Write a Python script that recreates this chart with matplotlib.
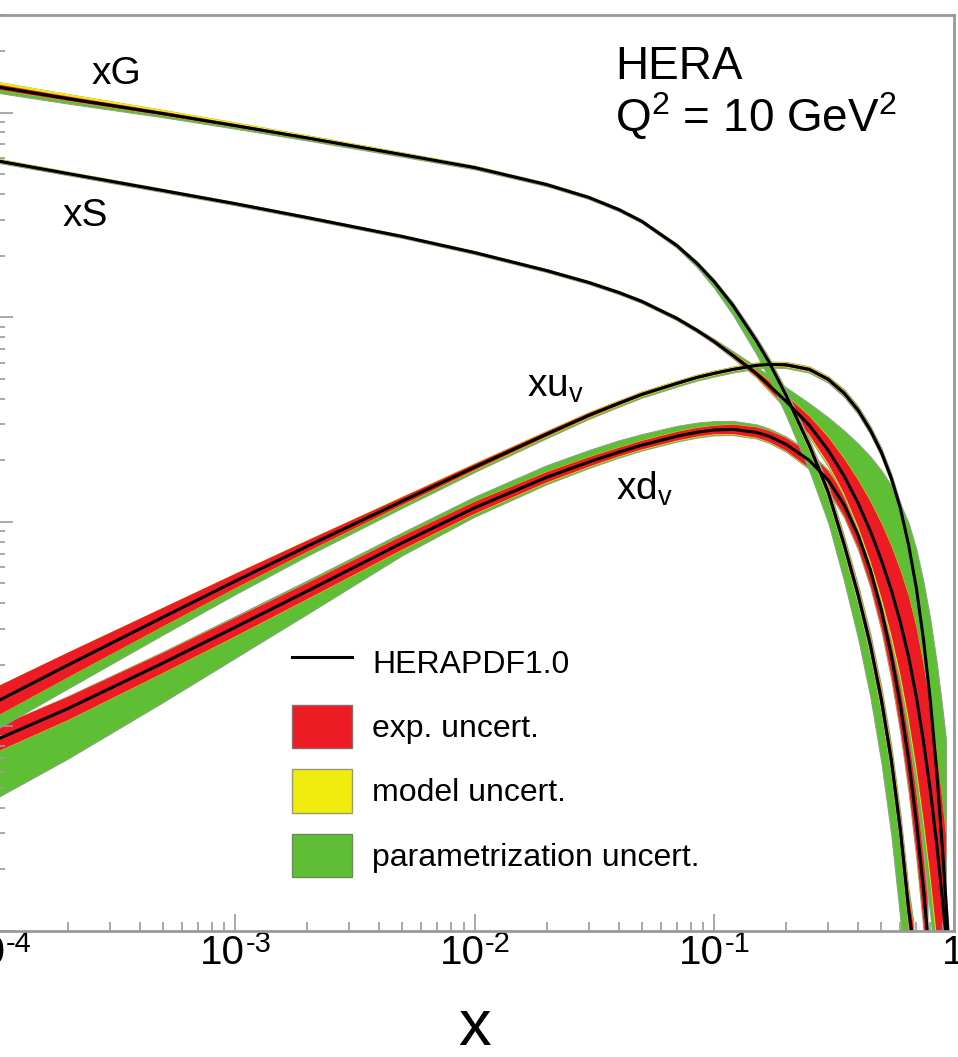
import numpy as np
import matplotlib
matplotlib.use("Agg")
import matplotlib.pyplot as plt
from matplotlib.patches import Patch
from matplotlib.lines import Line2D
from matplotlib.ticker import LogLocator, NullFormatter
from matplotlib.transforms import blended_transform_factory, ScaledTranslation

plt.rcParams["font.family"] = ["Liberation Sans", "DejaVu Sans"]
plt.rcParams["mathtext.fontset"] = "custom"
plt.rcParams["mathtext.rm"] = "Liberation Sans"
plt.rcParams["mathtext.it"] = "Liberation Sans"
plt.rcParams["mathtext.default"] = "regular"

# ---------------- HERAPDF1.0 at Q^2 = 10 GeV^2 ----------------
# uncertainties are relative: each band runs from c/(1+e) to c*(1+e)

# gluon
x_g = [1e-4, 2e-4, 5e-4, 1e-3, 2e-3, 5e-3, 0.01, 0.02, 0.03, 0.04, 0.05, 0.07, 0.085,
       0.1, 0.12, 0.15, 0.17, 0.2, 0.25, 0.3, 0.35, 0.4, 0.45, 0.5, 0.55, 0.6, 0.65, 0.68]
c_g = [13.40, 11.71, 9.89, 8.64, 7.52, 6.23, 5.39, 4.45, 3.85, 3.36, 2.94, 2.24, 1.83,
       1.494, 1.141, 0.770, 0.601, 0.415, 0.236, 0.1394, 0.0768, 0.0438, 0.0249,
       0.01344, 0.00684, 0.00311, 0.001266, 0.000855]
exp_g = [0.030, 0.026, 0.021, 0.018, 0.016, 0.014, 0.013, 0.012, 0.012, 0.012, 0.013,
         0.014, 0.015, 0.017, 0.02, 0.025, 0.03, 0.035, 0.045, 0.055, 0.065, 0.075,
         0.09, 0.11, 0.13, 0.16, 0.2, 0.25]
mup_g = [0.05, 0.045, 0.035, 0.03, 0.025, 0.02, 0.015, 0.012, 0.01, 0.01, 0.01, 0.01,
         0.01, 0.01, 0.012, 0.015, 0.02, 0.025, 0.03, 0.04, 0.05, 0.06, 0.07, 0.08,
         0.09, 0.1, 0.11, 0.12]
mdn_g = [0.01] * 14 + [0.015, 0.02, 0.025, 0.03, 0.04, 0.05, 0.06, 0.07, 0.08, 0.09,
                       0.1, 0.11, 0.12, 0.13]
pup_g = [0.01] * 11 + [0.01, 0.015, 0.02, 0.025, 0.03, 0.035, 0.04, 0.045, 0.05,
                       0.055, 0.06, 0.065, 0.07, 0.075, 0.08, 0.085, 0.09]
pdn_g = [0.06, 0.05, 0.035, 0.028, 0.022, 0.017, 0.013, 0.01, 0.01, 0.01, 0.01,
         0.02, 0.04, 0.07, 0.11, 0.16, 0.2, 0.25, 0.32, 0.4, 0.5, 0.62, 0.78, 1.0,
         1.3, 1.7, 2.2, 2.6]

# sea
x_s = [1e-4, 2e-4, 5e-4, 1e-3, 2e-3, 5e-3, 0.01, 0.02, 0.03, 0.04, 0.05, 0.07, 0.085,
       0.1, 0.12, 0.15, 0.17, 0.2, 0.25, 0.3, 0.35, 0.4, 0.45, 0.5, 0.55, 0.6, 0.65,
       0.7, 0.75, 0.8, 0.85, 0.9, 0.93]
c_s = [5.83, 5.04, 4.16, 3.59, 3.07, 2.48, 2.07, 1.69, 1.478, 1.321, 1.194, 0.986,
       0.862, 0.761, 0.650, 0.531, 0.464, 0.388, 0.296, 0.2235, 0.1668, 0.1231,
       0.0899, 0.0649, 0.0463, 0.0323, 0.02179, 0.01390, 0.00838, 0.00488, 0.00269,
       0.001417, 0.000956]
exp_s = [0.015, 0.013, 0.012, 0.011, 0.010, 0.010, 0.010, 0.011, 0.012, 0.013, 0.014,
         0.016, 0.018, 0.02, 0.025, 0.035, 0.05, 0.07, 0.11, 0.16, 0.22, 0.30, 0.40,
         0.52, 0.65, 0.80, 1.0, 1.2, 1.4, 1.6, 1.8, 2.0, 2.1]
mup_s = [0.02, 0.015, 0.012, 0.01, 0.01, 0.01, 0.01, 0.01, 0.01, 0.01, 0.01, 0.01,
         0.01, 0.012, 0.015, 0.02, 0.025, 0.03, 0.04, 0.05, 0.06, 0.07, 0.08, 0.09,
         0.1, 0.11, 0.12, 0.13, 0.14, 0.15, 0.16, 0.17, 0.18]
mdn_s = [0.01] * 14 + [0.015, 0.02, 0.03, 0.04, 0.06, 0.08, 0.1, 0.13, 0.16, 0.2,
                       0.25, 0.3, 0.35, 0.4, 0.45, 0.5, 0.55, 0.6, 0.6]
pup_s = [0.01] * 13 + [0.02, 0.04, 0.07, 0.1, 0.15, 0.25, 0.4, 0.6, 0.85, 1.15, 1.5,
                       1.9, 2.3, 2.8, 3.3, 3.8, 4.3, 4.8, 5.3, 5.6]
pdn_s = [0.01] * 14 + [0.015, 0.02, 0.03, 0.04, 0.06, 0.08, 0.1, 0.13, 0.16, 0.2,
                       0.3, 0.45, 0.65, 0.9, 1.2, 1.6, 2.0, 2.5, 2.8]

# u valence
x_u = [1e-4, 2e-4, 5e-4, 1e-3, 2e-3, 5e-3, 0.01, 0.02, 0.03, 0.04, 0.05, 0.07, 0.085,
       0.1, 0.12, 0.15, 0.17, 0.2, 0.25, 0.3, 0.35, 0.4, 0.45, 0.5, 0.55, 0.6, 0.65,
       0.7, 0.75, 0.8, 0.85, 0.9, 0.95]
c_u = [0.01313, 0.01991, 0.03417, 0.05122, 0.07592, 0.1263, 0.1849, 0.2680, 0.3313,
       0.3792, 0.4195, 0.4747, 0.5078, 0.5313, 0.5557, 0.5813, 0.588, 0.585, 0.5557,
       0.4966, 0.4243, 0.3505, 0.2799, 0.2185, 0.1632, 0.1164, 0.0768, 0.0473,
       0.02638, 0.01344, 0.00611, 0.002487, 0.000956]
exp_u = [0.18, 0.15, 0.11, 0.085, 0.065, 0.045, 0.035, 0.028, 0.025, 0.022, 0.02,
         0.018, 0.017, 0.016, 0.016, 0.016, 0.017, 0.018, 0.02, 0.022, 0.025, 0.028,
         0.032, 0.036, 0.04, 0.045, 0.05, 0.06, 0.07, 0.08, 0.09, 0.1, 0.11]
mup_u = [0.02] * 33
mdn_u = [0.02] * 33
pup_u = [0.015] * 6 + [0.02] * 14 + [0.03] * 13
pdn_u = [0.3, 0.25, 0.18, 0.13, 0.09, 0.06, 0.04, 0.03] + [0.025] * 12 + [0.03] * 13

# d valence
x_d = [1e-4, 2e-4, 5e-4, 1e-3, 2e-3, 5e-3, 0.01, 0.02, 0.03, 0.04, 0.05, 0.07, 0.085,
       0.1, 0.12, 0.15, 0.17, 0.2, 0.25, 0.3, 0.35, 0.4, 0.45, 0.5, 0.55, 0.6, 0.65,
       0.7, 0.75, 0.78]
c_d = [0.00857, 0.01220, 0.02040, 0.03050, 0.04580, 0.07900, 0.1170, 0.1650, 0.1960,
       0.2190, 0.2370, 0.2620, 0.2740, 0.2810, 0.2830, 0.2736, 0.2616, 0.2390, 0.1997,
       0.1595, 0.1204, 0.0859, 0.0580, 0.0370, 0.02228, 0.01270, 0.00684, 0.003406,
       0.001586, 0.000956]
exp_d = [0.15, 0.14, 0.12, 0.11, 0.095, 0.08, 0.07, 0.06, 0.055, 0.05, 0.05, 0.05, 0.05,
         0.05, 0.055, 0.06, 0.065, 0.075, 0.09, 0.11, 0.13, 0.15, 0.18, 0.21, 0.25, 0.3,
         0.35, 0.4, 0.45, 0.5]
mup_d = [0.02] * 30
mdn_d = [0.03] * 30
pup_d = [0.04, 0.05, 0.06, 0.07, 0.08, 0.09, 0.11, 0.13, 0.13, 0.13, 0.12, 0.11, 0.10,
         0.09, 0.08, 0.07, 0.06, 0.05] + [0.05] * 12
pdn_d = [0.9, 0.73, 0.53, 0.39, 0.27, 0.12, 0.07, 0.045, 0.03, 0.025, 0.02, 0.02, 0.02,
         0.02, 0.02, 0.02, 0.025, 0.03, 0.04, 0.05, 0.07, 0.09, 0.11, 0.14, 0.17, 0.2,
         0.24, 0.28, 0.32, 0.36]

legend_labels = ["HERAPDF1.0", "exp. uncert.", "model uncert.", "parametrization uncert."]
tick_values = [1e-4, 1e-3, 1e-2, 1e-1]
tick_powers = ["-4", "-3", "-2", "-1"]

RED = "#ED1C24"
YELLOW = "#F0EC0E"
GREEN = "#5EBF34"
EDGE = "#8f9f88"

fig = plt.figure(figsize=(9.58, 10.57), dpi=100)
ax = fig.add_axes([-4.5 / 958, 126 / 1057, 958 / 958, 916 / 1057])
ax.set_xscale("log")
ax.set_yscale("log")
ax.set_xlim(1e-4, 1)
ax.set_ylim(1e-3, 30)


def draw_pdf(x, c, e, mu, md, pu, pd):
    x = np.asarray(x)
    c = np.asarray(c)
    le, lmu, lmd, lpu, lpd = (np.log10(1 + np.asarray(a)) for a in (e, mu, md, pu, pd))
    tot_up = np.sqrt(le**2 + lmu**2 + lpu**2)
    tot_dn = np.sqrt(le**2 + lmd**2 + lpd**2)
    mod_up = np.sqrt(le**2 + lmu**2)
    mod_dn = np.sqrt(le**2 + lmd**2)
    ax.fill_between(x, c / 10**tot_dn, c * 10**tot_up, facecolor=GREEN,
                    edgecolor=EDGE, lw=0.7)
    ax.fill_between(x, c / 10**mod_dn, c * 10**mod_up, facecolor=YELLOW, lw=0)
    ax.fill_between(x, c / 10**le, c * 10**le, facecolor=RED, lw=0)
    ax.plot(x, c, color="black", lw=2.2, solid_joinstyle="round")


draw_pdf(x_d, c_d, exp_d, mup_d, mdn_d, pup_d, pdn_d)
draw_pdf(x_u, c_u, exp_u, mup_u, mdn_u, pup_u, pdn_u)
draw_pdf(x_s, c_s, exp_s, mup_s, mdn_s, pup_s, pdn_s)
draw_pdf(x_g, c_g, exp_g, mup_g, mdn_g, pup_g, pdn_g)

# frame and ticks
for side in ("left", "right", "top", "bottom"):
    ax.spines[side].set_color("#999999")
    ax.spines[side].set_linewidth(2.0)
    ax.spines[side].set_zorder(5)
ax.set_xticks(tick_values + [1.0])
ax.xaxis.set_minor_locator(LogLocator(base=10, subs=np.arange(2, 10), numticks=20))
ax.yaxis.set_major_locator(LogLocator(base=10, numticks=20))
ax.yaxis.set_minor_locator(LogLocator(base=10, subs=np.arange(2, 10), numticks=20))
ax.xaxis.set_minor_formatter(NullFormatter())
ax.yaxis.set_minor_formatter(NullFormatter())
ax.tick_params(which="both", direction="in", color="#999999", width=1.2,
               top=False, right=False, labelleft=False, labelbottom=False)
ax.tick_params(which="major", length=12.5)
ax.tick_params(which="minor", length=6.5)

# x tick labels: "10" with a raised exponent
xtrans = blended_transform_factory(ax.transData, ax.transAxes)
shift = ScaledTranslation(10 / 100, -3 / 100, fig.dpi_scale_trans)
for v, p in zip(tick_values, tick_powers):
    base = ax.text(v, 0, "10", transform=xtrans + shift, ha="right", va="top",
                   fontsize=29, clip_on=False)
    ax.annotate(p, xy=(1, 1), xycoords=base, xytext=(0.5, 3), textcoords="offset points",
                ha="left", va="top", fontsize=21)
ax.text(1.0, 0, "1", transform=xtrans + ScaledTranslation(0, -3 / 100, fig.dpi_scale_trans),
        ha="center", va="top", fontsize=29, clip_on=False)

ax.set_xlabel("x", fontsize=47)
ax.xaxis.label.set_va("baseline")
ax.xaxis.set_label_coords(0.5, (931 - 1045) / 916)

# curve names and header
def put(px, py, s, size):
    fig.text(px / 958, 1 - py / 1057, s, fontsize=size, ha="left", va="baseline")


put(92, 84, "xG", 28)
put(63, 226, "xS", 28)
put(527, 397, r"xu$_{\rm v}$", 28)
put(616, 500, r"xd$_{\rm v}$", 28)
put(615, 79, "HERA", 33)
put(615, 131, r"Q$^2$ = 10 GeV$^2$", 33)

handles = [
    Line2D([], [], color="black", lw=2.2),
    Patch(facecolor=RED, edgecolor="#8a6a6a", lw=1),
    Patch(facecolor=YELLOW, edgecolor="#9a9a70", lw=1),
    Patch(facecolor=GREEN, edgecolor="#6a8a60", lw=1),
]
fig.legend(handles, legend_labels, loc="upper left",
           bbox_to_anchor=(292 / 958, 1 - 641 / 1057), bbox_transform=fig.transFigure,
           frameon=False, fontsize=23, handlelength=1.88, handleheight=1.70,
           labelspacing=0.66, handletextpad=0.63, borderpad=0, borderaxespad=0)

fig.savefig("out.png", dpi=100)
